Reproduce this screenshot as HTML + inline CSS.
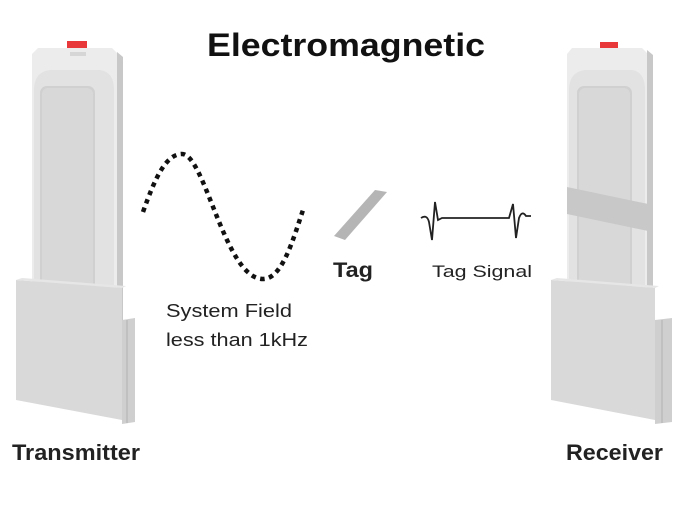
<!DOCTYPE html>
<html><head><style>
html,body{margin:0;padding:0;background:#fff;}
svg{display:block;}
text{font-family:"Liberation Sans",Arial,sans-serif;}
</style></head><body>
<svg width="700" height="507" viewBox="0 0 700 507" xmlns="http://www.w3.org/2000/svg">
<rect width="700" height="507" fill="#fff"/>
<text x="207" y="56" font-size="32" font-weight="bold" fill="#111" textLength="278" lengthAdjust="spacingAndGlyphs">Electromagnetic</text>

<!-- Transmitter -->
<g>
<rect x="67" y="41" width="20" height="8" fill="#e8383a"/>
<polygon points="117,52 123,57 123,325 117,325" fill="#c8c8c8"/>
<path d="M38,48 L112,48 L117,53 L117,325 L32,325 L32,54 Z" fill="#ececec"/>
<path d="M34,90 Q34,72 50,70 L100,70 Q114,72 114,90 L114,320 L34,320 Z" fill="#e2e2e2"/>
<rect x="70" y="52" width="16" height="4" fill="#d6d6d6"/>
<rect x="40" y="86" width="55" height="211" rx="7" fill="#d0d0d0"/>
<rect x="42" y="88" width="51" height="207" rx="6" fill="#d8d8d8"/>
<polygon points="122,320 135,318 135,422 122,424" fill="#cfcfcf"/>
<line x1="127" y1="320" x2="127" y2="423" stroke="#b0b0b0"/>
<polygon points="16,280 122,288 122,420 16,400" fill="#d9d9d9"/>
<polygon points="16,280 22,278 126,286 122,288" fill="#e6e6e6"/>
</g>

<!-- Receiver -->
<g>
<rect x="600" y="42" width="18" height="7" fill="#e8383a"/>
<polygon points="647,50 653,55 653,325 647,325" fill="#c8c8c8"/>
<path d="M572,48 L642,48 L647,53 L647,325 L567,325 L567,54 Z" fill="#ececec"/>
<path d="M569,90 Q569,72 585,70 L632,70 Q645,72 645,90 L645,320 L569,320 Z" fill="#e2e2e2"/>
<rect x="577" y="86" width="55" height="210" rx="7" fill="#d0d0d0"/>
<rect x="579" y="88" width="51" height="206" rx="6" fill="#d8d8d8"/>
<polygon points="567,187 653,205 653,232 567,214" fill="#c8c8c8"/>
<polygon points="655,320 672,318 672,422 655,424" fill="#cfcfcf"/>
<line x1="662" y1="320" x2="662" y2="423" stroke="#b0b0b0"/>
<polygon points="551,280 655,288 655,420 551,400" fill="#d9d9d9"/>
<polygon points="551,280 557,278 659,286 655,288" fill="#e6e6e6"/>
</g>

<!-- wave -->
<path d="M143,212 C155,178 166,154 182,154 C205,154 225,279 263,279 C282,279 293,240 303,210" fill="none" stroke="#111" stroke-width="4.5" stroke-dasharray="4.5,4.5"/>

<!-- tag -->
<polygon points="334,236 375,190 387,192 345,240" fill="#b5b5b5"/>

<!-- tag signal -->
<path d="M421,218 Q427,214 429,222 L432,240 L435,202 L438,220 L442,218 L509,218 L513,204 L516,238 L519,218 Q522,210 526,216 L531,216" fill="none" stroke="#222" stroke-width="1.8"/>

<text x="333" y="277" font-size="21" font-weight="bold" fill="#222" textLength="40" lengthAdjust="spacingAndGlyphs">Tag</text>
<text x="432" y="277" font-size="17" fill="#222" textLength="100" lengthAdjust="spacingAndGlyphs">Tag Signal</text>
<text x="166" y="317" font-size="18" fill="#222" textLength="126" lengthAdjust="spacingAndGlyphs">System Field</text>
<text x="166" y="346" font-size="18" fill="#222" textLength="142" lengthAdjust="spacingAndGlyphs">less than 1kHz</text>
<text x="12" y="460" font-size="22" font-weight="bold" fill="#222" textLength="128" lengthAdjust="spacingAndGlyphs">Transmitter</text>
<text x="566" y="460" font-size="22" font-weight="bold" fill="#222" textLength="97" lengthAdjust="spacingAndGlyphs">Receiver</text>
</svg>
</body></html>
